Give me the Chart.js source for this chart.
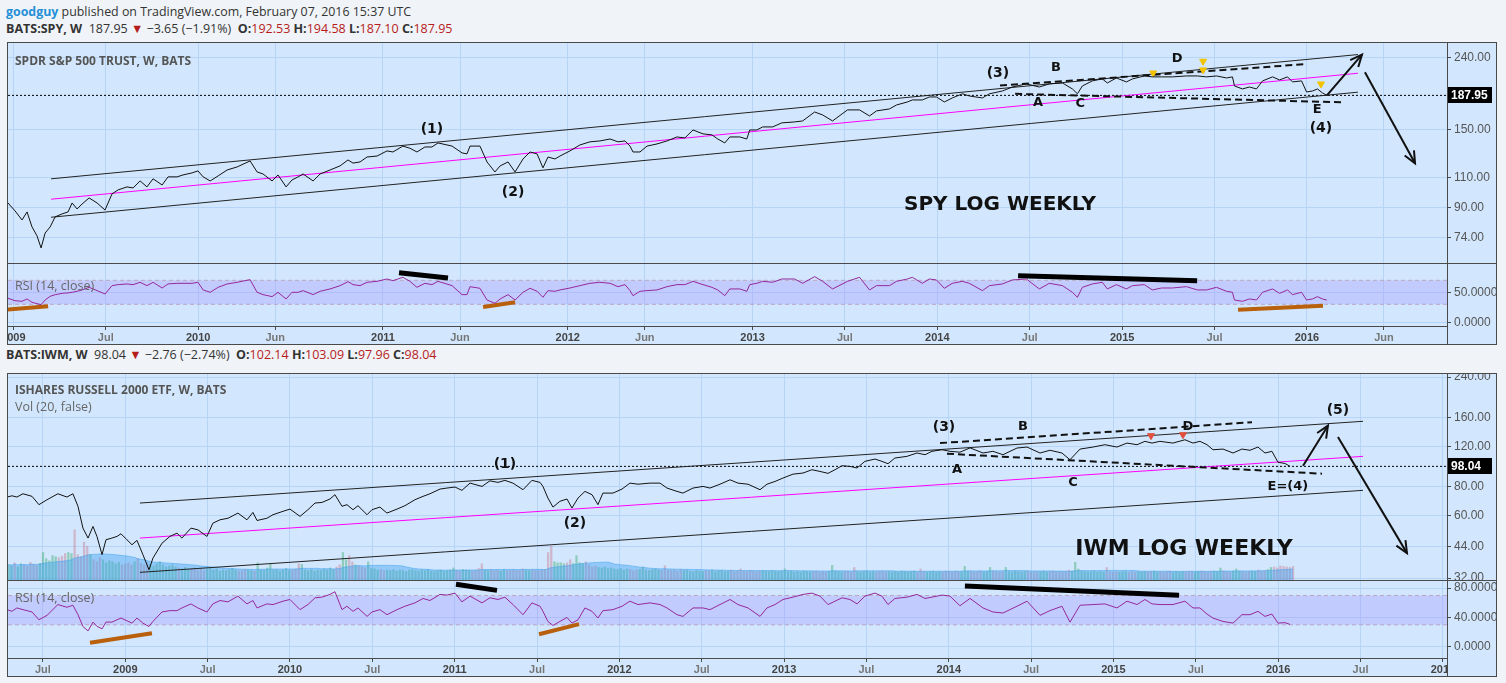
<!DOCTYPE html>
<html>
<head>
<meta charset="utf-8">
<title>SPY / IWM log weekly</title>
<script src="https://cdn.jsdelivr.net/npm/chart.js"></script>
<style>
body { margin:0; width:1506px; height:683px; overflow:hidden; position:relative; background:#f0f3f7; font-family:"Open Sans", Arial, sans-serif; color:#333; }
.hdr { position:absolute; left:6px; white-space:nowrap; font-size:12.5px; line-height:18px; }
.red { color:#b71c1c; }
.frame { position:absolute; left:7px; width:1490px; border:1px solid #4a4a4a; box-sizing:border-box; background:#d2e7fd; }
.sep { position:absolute; background:#4a4a4a; z-index:3; }
canvas { position:absolute; left:8px; z-index:1; }
.lbl { position:absolute; left:15px; white-space:nowrap; color:#555; font-size:12.5px; line-height:16px; z-index:2; }
</style>
</head>
<body>

<div class="hdr" style="top:3px;font-size:12.4px"><b style="color:#2490d8">goodguy</b> published on TradingView.com, February 07, 2016 15:37 UTC</div>
<div class="hdr" style="top:20px"><b>BATS:SPY, W</b>&nbsp; 187.95 <span class="red">&#9660;</span> &minus;3.65 (&minus;1.91%)&nbsp; <b>O:</b><span class="red">192.53</span> <b>H:</b><span class="red">194.58</span> <b>L:</b><span class="red">187.10</span> <b>C:</b><span class="red">187.95</span></div>

<div class="frame" style="top:42px;height:303px"></div>
<canvas id="spyPrice" width="1488" height="220" style="top:43px"></canvas>
<canvas id="spyRsi" width="1488" height="80" style="top:264px"></canvas>
<div class="sep" style="left:1447px;top:42px;width:1px;height:303px"></div>
<div class="sep" style="left:7px;top:263px;width:1490px;height:1px"></div>
<div class="lbl" style="top:53px;font-weight:bold;font-size:12px">SPDR S&amp;P 500 TRUST, W, BATS</div>
<div class="lbl" style="top:278px;color:#666">RSI (14, close)</div>

<div class="hdr" style="top:346px"><b>BATS:IWM, W</b>&nbsp; 98.04 <span class="red">&#9660;</span> &minus;2.76 (&minus;2.74%)&nbsp; <b>O:</b><span class="red">102.14</span> <b>H:</b><span class="red">103.09</span> <b>L:</b><span class="red">97.96</span> <b>C:</b><span class="red">98.04</span></div>

<div class="frame" style="top:373px;height:304px"></div>
<canvas id="iwmPrice" width="1488" height="206" style="top:374px"></canvas>
<canvas id="iwmRsi" width="1488" height="95" style="top:581px"></canvas>
<div class="sep" style="left:1447px;top:373px;width:1px;height:304px"></div>
<div class="sep" style="left:7px;top:580px;width:1490px;height:1px"></div>
<div class="lbl" style="top:382px;font-weight:bold;font-size:12px">ISHARES RUSSELL 2000 ETF, W, BATS</div>
<div class="lbl" style="top:399px;color:#666">Vol (20, false)</div>
<div class="lbl" style="top:590px;color:#666">RSI (14, close)</div>

<script>
// ---------- SPY weekly (fractional year, close, RSI 14) ----------
const spyT = [
  2008.966,2009.009,2009.047,2009.074,2009.101,2009.128,2009.150,2009.172,2009.199,2009.226,2009.264,2009.296,2009.318,2009.345,2009.372,2009.410,2009.453,2009.496,2009.534,2009.567,2009.615,2009.648,2009.686,2009.723,2009.756,2009.805,2009.837,2009.886,2009.918,2009.967,2009.999,
  2010.027,2010.065,2010.108,2010.157,2010.211,2010.281,2010.319,2010.351,2010.400,2010.432,2010.476,2010.508,2010.541,2010.568,2010.622,2010.660,2010.714,2010.768,2010.811,2010.838,2010.876,2010.914,2010.968,
  2011.022,2011.054,2011.108,2011.146,2011.184,2011.227,2011.265,2011.298,2011.374,2011.428,2011.455,2011.471,2011.525,2011.563,2011.606,2011.634,2011.677,2011.715,2011.758,2011.796,2011.834,2011.866,2011.893,2011.931,2011.958,
  2012.012,2012.066,2012.120,2012.174,2012.229,2012.272,2012.310,2012.337,2012.353,2012.391,2012.429,2012.483,2012.537,2012.591,2012.634,2012.678,2012.732,2012.780,2012.812,2012.850,2012.877,2012.931,2012.969,2012.985,
  2013.023,2013.055,2013.109,2013.158,2013.228,2013.271,2013.336,2013.379,2013.433,2013.514,2013.579,2013.633,2013.671,2013.741,2013.779,2013.838,2013.865,2013.919,2013.957,2013.995,
  2014.038,2014.081,2014.136,2014.173,2014.244,2014.282,2014.352,2014.406,2014.482,2014.552,2014.606,2014.677,2014.731,2014.758,2014.785,2014.839,2014.893,2014.920,2014.969,
  2015.023,2015.056,2015.120,2015.164,2015.213,2015.272,2015.348,2015.408,2015.457,2015.511,2015.565,2015.597,2015.608,2015.651,2015.689,2015.727,2015.760,2015.814,2015.852,2015.895,2015.922,2015.971,2015.998,
  2016.030,2016.057,2016.084,2016.108
];
const spyClose = [
  93.6,88.3,83.2,87.7,79.5,75,69.3,76.4,79.5,84.9,86.6,87.7,93,89.4,92.4,96.1,93,88.8,98.7,101.3,103.3,102.6,107.4,103.3,108.9,104.6,110.3,110.3,111.7,113.2,114.7,
  110.3,107.4,111,115.4,117.7,122.4,113.9,112.4,107.4,111.7,103.3,108.1,110.3,112.4,107.4,112.4,115.4,118.5,123.2,120.7,121.6,125.6,126.4,
  130.7,129.8,134.9,133,129.8,134.1,134.1,137.7,134.9,129,128.2,134.9,134.9,121.6,113.9,118.5,121.6,113.9,124,129.8,128.2,117,125.6,124,126.4,
  130.7,135.9,138.7,139.5,141.3,138.7,139.5,134.9,129.8,129.8,134.9,136.8,139.5,143.2,142.3,149.9,146.1,145.2,141.3,137.7,143.2,143.2,141.3,149.9,
  149.9,152.9,152.9,157,158,159,168.6,165.4,159,170.9,170.9,164.3,169.8,172,176.5,180,182.4,182.4,186,186,
  180,184.8,189.9,187.2,184.8,189.9,193.4,198.5,202.6,198.5,202.6,203.8,196,189.9,199.9,206.6,209.3,203.8,210.6,
  205.2,209.3,213.4,212.1,212.1,212.1,213.4,213.4,212.1,213.4,210.6,212.1,199.9,196,198.5,196,206.6,212.1,207.9,212.1,205.2,206.6,192.2,
  193.4,196,191,187.95
];
const spyRsi = [
  40.6,36,35,38.9,33.3,31,29.4,37.2,43.3,46,48.3,49,50,51.7,53.9,58.3,52.8,47.2,61.1,62.8,63.9,62.8,66.7,61.1,66.7,57.2,63.9,65,65,65,66.7,
  53.9,50,58.3,63.9,66.7,71.1,50,46.1,42.8,50,38.9,50,50,52.8,46.1,51.7,55.6,61.1,67.8,62.8,61.1,66.7,68.3,
  72.2,69.4,75,68.3,58.3,65,62.8,68.3,61.1,46.1,46.1,59.4,56.7,37.2,31.7,38.9,46.1,37.2,50,56.7,51.7,41.7,52.8,51.7,53.9,
  57.2,61.1,65,66.7,65,59.4,62.8,52.8,44.4,51.7,52.8,53.9,59.4,62.8,62.8,68.3,62.8,58.3,53.9,44.4,55.6,55.6,51.7,62.8,
  65,68.3,66.7,72.2,72.2,65,76.1,68.3,55.6,68.3,75,53.9,61.1,61.1,68.3,72.2,75,65,72.2,70.6,
  56.7,65,68.3,65,52.8,61.1,63.9,70.6,72.2,55.6,65,61.1,50,41.7,58.3,63.9,66.7,55.6,62.8,
  55.6,61.1,62.8,53.9,57.2,57.2,59.4,53.9,53.9,58.3,51.7,50,37.2,35,38.9,37.2,50,55.6,48.3,53.9,46.1,50,37.2,
  38.9,42.8,38.9,37
];
const spyLast = 187.95;
const spyPriceTicks = [74, 90, 110, 150, 240];
const spyRsiTicks = [0, 50];
const spyTickAt = [2009, 2009.5, 2010, 2010.417, 2011, 2011.417, 2012, 2012.417, 2013, 2013.5, 2014, 2014.5, 2015, 2015.5, 2016, 2016.417];
const spyTickText = ['2009','Jul','2010','Jun','2011','Jun','2012','Jun','2013','Jul','2014','Jul','2015','Jul','2016','Jun'];

// SPY drawings (time, price)
const spyUpper = [[2009.204,108.9],[2016.276,245.4]];
const spyMid = [[2009.204,95.3],[2016.276,217.2]];
const spyLower = [[2009.204,84.7],[2016.276,191.9]];
const spyTriTop = [[2014.339,200.4],[2016.0,230.6]];
const spyTriBottom = [[2014.421,189.8],[2016.190,179.6]];
const spyArrowUp = [[2016.108,187.9],[2016.298,245.4]];
const spyArrowDown = [[2016.314,218.7],[2016.585,120.5]];
const spyFlags = [[2015.168,217.6],[2015.438,234.9],[2015.438,222],[2016.076,202.5]];
const spyNotes = [
  [2011.265,150.9,'(1)'],[2011.704,99.9,'(2)'],[2014.328,217.6,'(3)'],[2014.642,224.9,'B'],
  [2014.545,179,'A'],[2014.773,177.7,'C'],[2015.298,238.4,'D'],[2016.055,170.9,'E'],
  [2016.076,151.9,'(4)'],[2014.339,91.8,'SPY LOG WEEKLY']
];
const spyRsiBlack = [[[2011.087,82.7],[2011.352,73.8]], [[2014.437,77.7],[2015.406,69.4]]];
const spyRsiOrange = [[[2008.966,21],[2009.188,26.7]], [[2011.542,25.5],[2011.715,33.3]], [[2015.627,21],[2016.087,27.7]]];

// ---------- IWM weekly ----------
const iwmT = [
  2008.282,2008.312,2008.342,2008.379,2008.434,2008.476,2008.525,2008.591,2008.646,2008.682,2008.713,2008.743,2008.774,2008.804,2008.828,2008.859,2008.883,2008.919,2008.950,2008.974,
  2009.010,2009.041,2009.071,2009.107,2009.144,2009.168,2009.223,2009.271,2009.314,2009.344,2009.399,2009.441,2009.496,2009.532,2009.575,2009.624,2009.684,2009.739,2009.775,2009.800,2009.860,2009.897,2009.958,
  2010.000,2010.061,2010.109,2010.152,2010.194,2010.243,2010.273,2010.316,2010.346,2010.383,2010.413,2010.468,2010.498,2010.546,2010.589,2010.650,2010.698,2010.759,2010.808,2010.850,2010.911,2010.953,
  2011.002,2011.044,2011.093,2011.166,2011.214,2011.263,2011.305,2011.354,2011.415,2011.469,2011.518,2011.536,2011.566,2011.597,2011.639,2011.682,2011.712,2011.749,2011.791,2011.834,2011.870,2011.900,2011.961,
  2012.016,2012.064,2012.113,2012.186,2012.247,2012.289,2012.350,2012.386,2012.447,2012.508,2012.550,2012.611,2012.672,2012.720,2012.781,2012.854,2012.896,2012.945,2012.993,
  2013.054,2013.115,2013.169,2013.218,2013.267,2013.309,2013.352,2013.400,2013.443,2013.491,2013.552,2013.594,2013.631,2013.673,2013.746,2013.807,2013.856,2013.898,2013.959,
  2014.007,2014.068,2014.129,2014.208,2014.268,2014.329,2014.414,2014.475,2014.554,2014.614,2014.687,2014.736,2014.797,2014.876,2014.948,
  2015.021,2015.082,2015.143,2015.191,2015.234,2015.282,2015.361,2015.434,2015.483,2015.525,2015.568,2015.604,2015.665,2015.726,2015.780,2015.829,2015.877,2015.920,2015.962,2015.999,
  2016.041,2016.072
];
const iwmClose = [
  72.1,73,72.1,74.5,72.6,66.8,70.2,74.5,72.1,74.5,65.7,52.8,47.8,53.7,48.6,40.5,47,47.8,48.6,49.9,
  47,44.7,46.7,40.5,34.8,39.1,45.4,48.6,50.2,47.8,52.8,51.9,48.6,55.5,57.4,58.3,61.4,57.4,61.8,57,58.3,60.4,62.5,
  63.9,59.4,63.5,67.9,68.3,70.7,73.8,65.7,66.8,63.5,66.1,60.4,63.5,65.2,61.4,63.9,66.1,70.2,72.6,74.5,78.1,78.9,
  79.7,77.1,82.9,80.2,84.8,83.5,85.2,82.9,77.6,85.2,83.5,80.2,71.4,65.2,69.1,70.7,64.6,71.4,76.3,73.8,66.8,75,75,
  78.1,82.9,82,82.9,82.9,78.9,76.3,75,78.9,80.2,78.9,82,85.7,82.9,82,77.6,82,84.3,87.2,
  90.7,91.7,94.8,93.2,91.4,94.8,98.7,98,96.5,103.1,105.5,103.1,100.7,106.6,108.4,112.1,110.2,114,115.8,
  114,113,118,112.1,114,110.2,117.8,119,112.1,115.2,112.1,104.8,116.6,119,121.8,
  119,123.8,121.8,126,123.8,126,123.8,128,123.8,126,121.8,115.8,116.6,112.1,116.6,115.2,119,112.1,114,102.1,
  101,98.04
];
const iwmRsi = [
  50.7,48.4,53,50.7,47.5,36.9,42.9,57.6,53.9,56.7,43.8,27.7,21.7,33.7,28,24.5,33.7,33.7,36.9,39.2,
  35.5,32.3,39.2,32.3,27.7,34.6,47.5,49.3,49.3,53,58.5,53,47.5,58.5,63.1,61.3,69.1,58.5,63.1,53,58.5,57.6,62.2,
  64.5,50.7,57.6,66.8,67.7,71.4,75.1,50.7,55.3,48.4,53,41.5,47.5,50.7,43.8,50.7,55.3,59.9,65.9,63.1,71.4,70.5,
  73.2,61.3,69.1,59.9,66.8,64.5,67.7,57.6,43.8,59.9,55.3,48.4,34.6,29.1,34.6,40.1,32.3,36.9,53,48.4,39.2,49.3,50.7,
  55.3,62.2,57.6,59.9,57.6,53,43.8,41.5,53,53,50.7,57.6,64.5,57.6,53,41.5,53,57.6,64.5,
  67.7,71.4,73.2,69.1,57.6,62.2,66.8,64.5,58.5,69.1,73.2,69.1,57.6,65.9,67.7,71.4,65.9,67.7,70.5,
  69.1,56,66,53,47.5,46.1,55.3,62.2,42.9,49.3,55.3,33.7,56.7,57.6,58.5,
  53,62.2,57.6,64.5,58.5,57.6,57.6,62.2,53,53,44.7,39.2,34.6,32.3,43.8,43.8,48.4,41.5,44.7,32.3,
  33,30.5
];
// weekly volume (millions of shares), first bar week of 2008.29
const iwmVolStart = 2008.29;
const iwmVol = [
  300,280,340,260,320,300,280,350,310,290, 330,540,420,380,480,460,440,470,520,540,
  520,980,500,460,740,660,500,400,360,440, 400,340,380,360,320,350,300,320,340,300,
  360,420,330,300,350,310,280,320,360,300, 260,280,300,260,240,220,250,210,230,240,
  200,220,190,210,230,200,220,180,200,190, 210,230,200,180,190,210,200,190,180,340,
  200,190,240,320,200,210,180,200,230,190, 200,220,320,310,200,190,210,180,200,190,
  220,200,240,210,260,300,540,400,480,360, 300,280,260,240,360,230,220,200,210,190,
  200,190,210,180,200,190,170,200,210,190, 180,200,190,210,180,170,190,200,180,190,
  200,240,190,180,210,200,190,180,200,230, 320,200,190,210,190,200,180,210,190,200,
  210,190,200,220,200,190,210,200,190,210, 210,540,660,360,340,340,320,340,400,330,
  480,340,320,360,300,260,280,250,240,260, 230,240,220,210,230,200,220,210,190,200,
  210,260,200,190,210,220,200,190,280,200, 190,200,180,210,190,200,180,170,190,180,
  170,190,180,200,170,180,190,170,180,200, 170,180,220,180,170,190,180,170,180,190,
  180,170,190,180,170,180,220,170,180,160, 170,160,180,170,160,170,180,160,170,160,
  170,290,180,170,160,170,180,160,250,170, 160,170,180,160,170,160,170,180,160,170,
  160,170,160,180,170,160,170,180,160,220, 170,160,170,180,160,170,160,180,170,160,
  180,170,170,270,180,170,160,170,180,160, 170,250,180,170,160,170,250,170,160,180,
  170,160,170,180,160,170,160,170,180,160, 170,180,160,170,160,170,200,180,350,220,
  180,170,160,170,180,160,170,160,250,170, 160,170,160,170,180,160,170,160,170,160,
  170,160,170,180,160,170,160,170,180,160, 170,160,170,160,180,170,160,170,180,170,
  160,170,180,170,240,180,170,160,180,220, 180,170,160,170,180,170,200,180,190,210,
  250,260,240,280,270,260,250,270
];
const iwmLast = 98.04;
const iwmPriceTicks = [32, 44, 60, 80, 120, 160, 240];
const iwmRsiTicks = [0, 40, 80];
const iwmTickAt = [2008.5, 2009, 2009.5, 2010, 2010.5, 2011, 2011.5, 2012, 2012.5, 2013, 2013.5, 2014, 2014.5, 2015, 2015.5, 2016, 2016.5, 2017];
const iwmTickText = ['Jul','2009','Jul','2010','Jul','2011','Jul','2012','Jul','2013','Jul','2014','Jul','2015','Jul','2016','Jul','2017'];

const iwmUpper = [[2009.089,67.9],[2016.515,154]];
const iwmMid = [[2009.089,47.8],[2016.515,108.4]];
const iwmLower = [[2009.089,33.9],[2016.515,77.1]];
const iwmTriTop = [[2013.947,123.8],[2015.841,152.5]];
const iwmTriBottom = [[2013.989,111.3],[2016.266,91.1]];
const iwmArrowUp = [[2016.151,98.7],[2016.302,147.4]];
const iwmArrowDown = [[2016.363,131.5],[2016.782,41.1]];
const iwmFlags = [[2015.228,133.4],[2015.422,134.7]];
const iwmNotes = [
  [2011.305,99.7,'(1)'],[2011.730,55.5,'(2)'],[2013.971,145,'(3)'],[2014.050,94.8,'A'],
  [2014.450,146.5,'B'],[2014.754,82.9,'C'],[2015.452,146.5,'D'],[2016.059,79.7,'E=(4)'],
  [2016.363,171.2,'(5)'],[2015.428,42.9,'IWM LOG WEEKLY']
];
const iwmRsiBlack = [[[2011.008,85.2],[2011.257,76.9]], [[2014.098,82.8],[2015.398,70.4]]];
const iwmRsiOrange = [[[2008.786,5.6],[2009.162,18.6]], [[2011.512,17.2],[2011.755,31]]];

// ---------- helpers ----------
const BG = '#d2e7fd', GRID = '#b6d5f6', AXIS = '#4a4a4a', TXT = '#555';
const NOTE_FONT = '"DejaVu Sans", Verdana, sans-serif';

function pts(xs, ys) { return xs.map((x, i) => ({ x: x, y: ys[i] })); }
function seg(a) { return a.map(p => ({ x: p[0], y: p[1] })); }
function line(data, color, width, more) {
  return Object.assign({ type: 'line', data: data, borderColor: color, borderWidth: width,
    pointRadius: 0, fill: false, tension: 0 }, more || {});
}
function flags(a, color) {
  return line(seg(a), color, 1, { showLine: false, pointRadius: 4, pointStyle: 'triangle',
    pointRotation: 180, pointBackgroundColor: color, pointBorderColor: color });
}
// no label padding: plot area must fill the canvas exactly
function noPad(sc) { sc.paddingLeft = sc.paddingRight = sc.paddingTop = sc.paddingBottom = 0; }

// arrow heads, notes, last price tag, clipping of the time axis under the price scale
const marks = {
  id: 'marks',
  afterDatasetsDraw(chart, args, opts) {
    const ctx = chart.ctx, xs = chart.scales.x, ys = chart.scales.y;
    ctx.save();
    chart.data.datasets.forEach((ds, i) => {
      if (!ds.arrow) return;
      const p = chart.getDatasetMeta(i).data;
      const a = p[p.length - 2], b = p[p.length - 1];
      const ang = Math.atan2(b.y - a.y, b.x - a.x);
      ctx.strokeStyle = ds.borderColor;
      ctx.lineWidth = ds.borderWidth;
      ctx.beginPath();
      ctx.moveTo(b.x - 13 * Math.cos(ang - 0.42), b.y - 13 * Math.sin(ang - 0.42));
      ctx.lineTo(b.x, b.y);
      ctx.lineTo(b.x - 13 * Math.cos(ang + 0.42), b.y - 13 * Math.sin(ang + 0.42));
      ctx.stroke();
    });
    ctx.textAlign = 'center';
    ctx.textBaseline = 'middle';
    ctx.fillStyle = '#111';
    (opts.notes || []).forEach(n => {
      const big = n[2].length > 6;
      ctx.font = 'bold ' + (big ? opts.big : (n[2][0] === '(' ? 14 : 13)) + 'px ' + NOTE_FONT;
      ctx.fillText(n[2], xs.getPixelForValue(n[0]), ys.getPixelForValue(n[1]));
    });
    ctx.restore();
  },
  afterDraw(chart, args, opts) {
    const ctx = chart.ctx, ca = chart.chartArea;
    ctx.save();
    if (opts.cover) {
      ctx.fillStyle = BG;
      ctx.fillRect(ca.right + 1, ca.bottom + 1, chart.width - ca.right, chart.height - ca.bottom);
    }
    if (opts.last != null) {
      const y = chart.scales.y.getPixelForValue(opts.last);
      ctx.fillStyle = '#000';
      ctx.fillRect(ca.right + 1, Math.round(y) - 8, 44, 16);
      ctx.fillStyle = '#fff';
      ctx.font = 'bold 12px "Liberation Sans", Arial, sans-serif';
      ctx.textAlign = 'left';
      ctx.textBaseline = 'middle';
      ctx.fillText(opts.last.toFixed(2), ca.right + 4, Math.round(y) + 1);
    }
    ctx.restore();
  }
};

function baseOptions(o) {
  return {
    responsive: false, animation: false, events: [],
    layout: { padding: 0, autoPadding: false },
    plugins: { legend: { display: false }, tooltip: { enabled: false }, marks: o },
    elements: { point: { radius: 0 }, line: { tension: 0 } }
  };
}

function xScale(min, max, at, text) {
  const s = {
    type: 'linear', min: min, max: max, offset: false,
    afterBuildTicks: sc => { sc.ticks = at.map(v => ({ value: v })); },
    grid: { color: GRID, offset: false },
    border: { display: false }
  };
  if (!text) {
    s.afterFit = sc => { sc.height = 0; noPad(sc); };
    s.ticks = { display: false };
    s.grid.drawTicks = false;
  } else {
    s.afterFit = sc => { sc.height = 18; noPad(sc); };
    s.ticks = {
      autoSkip: false, maxRotation: 0, padding: 1,
      callback: (v, i) => text[i],
      color: c => /^\d/.test(text[c.index]) ? '#444' : '#777',
      font: { size: 11, weight: 'bold', family: '"Liberation Sans", Arial, sans-serif' }
    };
    s.grid.tickLength = 4;
    s.grid.tickColor = AXIS;
    s.border = { display: true, color: AXIS };
  }
  return s;
}

function yScale(type, min, max, ticks, digits) {
  return {
    type: type, position: 'right', min: min, max: max,
    afterBuildTicks: sc => { sc.ticks = ticks.map(v => ({ value: v })); },
    afterFit: sc => { sc.width = 49; noPad(sc); },
    ticks: { callback: v => Number(v).toFixed(digits), color: TXT, padding: 3,
      font: { size: 12, family: '"Liberation Sans", Arial, sans-serif' } },
    grid: { color: GRID, tickLength: 4, tickColor: AXIS },
    border: { display: false }
  };
}

function band(xMin, xMax) {
  return [
    line(seg([[xMin, 70], [xMax, 70]]), '#b9a9bd', 1, { borderDash: [4, 3], fill: '+1', backgroundColor: 'rgba(158,140,255,0.3)' }),
    line(seg([[xMin, 30], [xMax, 30]]), '#b9a9bd', 1, { borderDash: [4, 3] })
  ];
}

// ---------- SPY ----------
const spyX = [2008.971, 2016.758];
new Chart(document.getElementById('spyPrice'), {
  type: 'line',
  data: { datasets: [
    line(pts(spyT, spyClose), '#111', 1),
    line(seg(spyArrowUp), '#111', 2, { arrow: true }),
    line(seg(spyArrowDown), '#111', 2, { arrow: true }),
    flags(spyFlags, '#f2c200'),
    line(seg(spyTriTop), '#111', 2, { borderDash: [7, 4] }),
    line(seg(spyTriBottom), '#111', 2, { borderDash: [7, 4] }),
    line(seg(spyUpper), '#222', 1),
    line(seg(spyLower), '#222', 1),
    line(seg(spyMid), '#ff00ff', 1),
    line(seg([[spyX[0], spyLast], [spyX[1], spyLast]]), '#000', 1, { borderDash: [2, 2] })
  ] },
  options: Object.assign(baseOptions({ notes: spyNotes, last: spyLast, big: 20 }), {
    scales: {
      x: xScale(spyX[0], spyX[1], spyTickAt, null),
      y: yScale('logarithmic', 62.8, 264.7, spyPriceTicks, 2)
    }
  }),
  plugins: [marks]
});

new Chart(document.getElementById('spyRsi'), {
  type: 'line',
  data: { datasets: [
    line(pts(spyT, spyRsi), '#94279c', 1),
    ...spyRsiBlack.map(s => line(seg(s), '#000', 5)),
    ...spyRsiOrange.map(s => line(seg(s), '#b8600c', 4)),
    ...band(spyX[0], spyX[1])
  ] },
  options: Object.assign(baseOptions({ cover: true }), {
    scales: {
      x: xScale(spyX[0], spyX[1], spyTickAt, spyTickText),
      y: yScale('linear', -6.2, 97.2, spyRsiTicks, 4)
    }
  }),
  plugins: [marks]
});

// ---------- IWM ----------
const iwmX = [2008.288, 2017.025];
const volT = iwmVol.map((v, i) => iwmVolStart + i * 7 / 365.25);
const volColor = volT.map(t => {
  let j = 0;
  while (j < iwmT.length - 2 && iwmT[j + 1] <= t) j++;
  return iwmClose[j + 1] >= iwmClose[j] ? 'rgba(60,170,110,0.45)' : 'rgba(200,110,130,0.4)';
});
const volMa = iwmVol.map((v, i) => {
  const part = iwmVol.slice(Math.max(0, i - 19), i + 1);
  return part.reduce((a, b) => a + b, 0) / part.length;
});

new Chart(document.getElementById('iwmPrice'), {
  type: 'line',
  data: { datasets: [
    line(pts(iwmT, iwmClose), '#111', 1),
    line(seg(iwmArrowUp), '#111', 2, { arrow: true }),
    line(seg(iwmArrowDown), '#111', 2, { arrow: true }),
    flags(iwmFlags, '#e0503c'),
    line(seg(iwmTriTop), '#111', 2, { borderDash: [7, 4] }),
    line(seg(iwmTriBottom), '#111', 2, { borderDash: [7, 4] }),
    line(seg(iwmUpper), '#222', 1),
    line(seg(iwmLower), '#222', 1),
    line(seg(iwmMid), '#ff00ff', 1),
    line(seg([[iwmX[0], iwmLast], [iwmX[1], iwmLast]]), '#000', 1, { borderDash: [2, 2] }),
    line(pts(volT, volMa), 'rgba(60,160,240,0.5)', 1, { yAxisID: 'v', fill: 'origin', backgroundColor: 'rgba(60,160,240,0.42)' }),
    { type: 'bar', data: pts(volT, iwmVol), yAxisID: 'v', backgroundColor: volColor,
      borderWidth: 0, barPercentage: 0.72, categoryPercentage: 1 }
  ] },
  options: Object.assign(baseOptions({ notes: iwmNotes, last: iwmLast, big: 22 }), {
    scales: {
      x: xScale(iwmX[0], iwmX[1], iwmTickAt, null),
      y: yScale('logarithmic', 31.4, 247.4, iwmPriceTicks, 2),
      v: { type: 'linear', display: false, min: 0, max: 4000 }
    }
  }),
  plugins: [marks]
});

new Chart(document.getElementById('iwmRsi'), {
  type: 'line',
  data: { datasets: [
    line(pts(iwmT, iwmRsi), '#94279c', 1),
    ...iwmRsiBlack.map(s => line(seg(s), '#000', 5)),
    ...iwmRsiOrange.map(s => line(seg(s), '#b8600c', 4)),
    ...band(iwmX[0], iwmX[1])
  ] },
  options: Object.assign(baseOptions({ cover: true }), {
    scales: {
      x: xScale(iwmX[0], iwmX[1], iwmTickAt, iwmTickText),
      y: yScale('linear', -15.2, 89.7, iwmRsiTicks, 4)
    }
  }),
  plugins: [marks]
});
</script>
</body>
</html>
